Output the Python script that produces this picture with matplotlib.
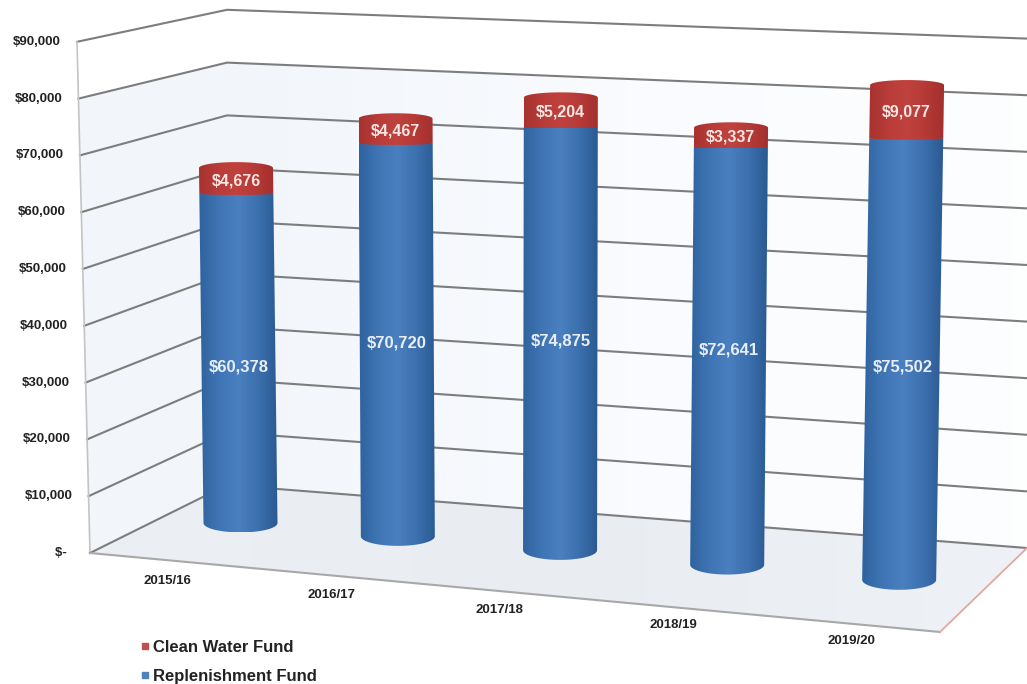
import numpy as np
import matplotlib
matplotlib.use("Agg")
import matplotlib.pyplot as plt
from matplotlib.colors import LinearSegmentedColormap
from matplotlib.lines import Line2D
from matplotlib.patches import Polygon

# datos
periodos = ["2015/16", "2016/17", "2017/18", "2018/19", "2019/20"]
replenishment = [60378, 70720, 74875, 72641, 75502]
clean_water = [4676, 4467, 5204, 3337, 9077]
marcas_eje = [0, 10000, 20000, 30000, 40000, 50000, 60000, 70000, 80000, 90000]
etiquetas_eje = ["$-  ", "$10,000", "$20,000", "$30,000", "$40,000", "$50,000",
                 "$60,000", "$70,000", "$80,000", "$90,000"]
nombres = ["Clean Water Fund", "Replenishment Fund"]

plt.rcParams["font.family"] = ["Liberation Sans", "DejaVu Sans"]
BOLD = "bold"

# colormaps del cilindro
cmap_azul = LinearSegmentedColormap.from_list("azul", ["#2f639f", "#3f75b4", "#4a80c0", "#3c70ae", "#2a5a92"])
cmap_rojo = LinearSegmentedColormap.from_list("rojo", ["#a7322f", "#b93c39", "#c0423e", "#b63a37", "#a2302d"])


def pared_izq(v):
    return 90 - 13 * v / 90000, 553 - 5.68 * v / 1000


def pared_fondo(v):
    return 227, 485 - 5.28 * v / 1000


def pared_der(v):
    return 1027, 548 - 5.66 * v / 1000


def base_x(i):
    return 240.5 + 154.9 * i + 2.44 * i * i


def base_y(i):
    return 523 + 13 * i + 0.3 * i * i


def escala(i):
    return (5.457 + 0.098 * i) / 1000


def punto(i, v):
    # del valor al pixel, el cilindro se inclina un poco por la perspectiva
    y = base_y(i) - v * escala(i)
    x = base_x(i) + (-0.0127 + 0.0072 * i) * (base_y(i) - y)
    return x, y


def semieje(y):
    # la elipse se abre mas abajo
    return 5 + 5 * max(y - 80, 0) / 500


def arco(cx, cy, ancho, alto):
    t = np.linspace(0, np.pi, 40)
    return np.column_stack([cx + ancho * np.cos(t), cy + alto * np.sin(t)])


def tramo(ax, i, v0, v1, cmap, zorder, alto_abajo, alto_arriba):
    x0, y0 = punto(i, v0)
    x1, y1 = punto(i, v1)
    medio = 37
    abajo = arco(x0, y0, medio, alto_abajo)                 # derecha a izquierda por abajo
    arriba = arco(x1, y1, medio, alto_arriba)[::-1]         # izquierda a derecha
    pts = np.vstack([abajo, arriba])
    parche = Polygon(pts, closed=True, transform=ax.transData, facecolor="none", edgecolor="none")
    ax.add_patch(parche)
    grad = np.linspace(0, 1, 128).reshape(1, -1)
    izq, der = pts[:, 0].min(), pts[:, 0].max()
    im = ax.imshow(grad, cmap=cmap, extent=[izq, der, pts[:, 1].max(), pts[:, 1].min()],
                   aspect="auto", zorder=zorder, interpolation="bilinear")
    im.set_clip_path(parche)


def fondo_gradiente(ax, pts, colores, zorder=1):
    parche = Polygon(pts, closed=True, transform=ax.transData, facecolor="none", edgecolor="none")
    ax.add_patch(parche)
    cmap = LinearSegmentedColormap.from_list("f", colores)
    pts = np.array(pts)
    im = ax.imshow(np.linspace(0, 1, 64).reshape(1, -1), cmap=cmap,
                   extent=[pts[:, 0].min(), pts[:, 0].max(), pts[:, 1].max(), pts[:, 1].min()],
                   aspect="auto", zorder=zorder)
    im.set_clip_path(parche)


fig = plt.figure(figsize=(10.27, 6.84), dpi=100)
ax = fig.add_axes([0, 0, 1, 1])

# paredes y piso
v_alto = marcas_eje[-2]
fondo_gradiente(ax, [pared_izq(0), pared_izq(v_alto), pared_fondo(v_alto), pared_fondo(0)],
                ["#f3f6fa", "#f2f6fa"])
fondo_gradiente(ax, [pared_fondo(0), pared_fondo(v_alto), pared_der(v_alto), pared_der(0)],
                ["#f2f6fb", "#f9fbfe", "#fdfefe"])
esquina = (940, 632)
fondo_gradiente(ax, [pared_izq(0), pared_fondo(0), pared_der(0), esquina],
                ["#eceff4", "#e9edf2", "#eef1f5"])

# rejilla
for v in marcas_eje:
    xs, ys = zip(pared_izq(v), pared_fondo(v), pared_der(v))
    ax.plot(xs, ys, color="#7d7d7d", lw=1.5, zorder=2, solid_joinstyle="miter")
xs, ys = zip(pared_izq(0), pared_izq(marcas_eje[-1]))
ax.plot(xs, ys, color="#c4c4c4", lw=1.2, zorder=2)
ax.plot([pared_izq(0)[0], esquina[0]], [pared_izq(0)[1], esquina[1]], color="#a8a8a8", lw=1.5, zorder=2)
ax.plot([esquina[0], pared_der(0)[0]], [esquina[1], pared_der(0)[1]], color="#e2a79f", lw=1.3, zorder=2)

# etiquetas eje y
for v, etiqueta in zip(marcas_eje, etiquetas_eje):
    x, y = pared_izq(v)
    ax.text(x - 16, y, etiqueta, ha="right", va="center", fontsize=9.5,
            fontweight=BOLD, color="#222222", zorder=5)

# cilindros
ajuste_label = [9, 3, 2, -6, 8]
for i in range(len(periodos)):
    r = replenishment[i]
    c = clean_water[i]
    y_base = punto(i, 0)[1]
    y_top = punto(i, r + c)[1]
    tramo(ax, i, 0, r, cmap_azul, 3 + i * 0.1, semieje(y_base), 0)
    # el tope curva hacia arriba, la union con el azul casi plana
    tramo(ax, i, r, r + c, cmap_rojo, 3.02 + i * 0.1, 1.5, -semieje(y_top))
    xm, ym = punto(i, r / 2)
    ax.text(xm, ym + ajuste_label[i], f"${r:,}", ha="center", va="center", fontsize=12,
            fontweight=BOLD, color="#e9eef6", zorder=6)
    xm, ym = punto(i, r + c / 2)
    ax.text(xm, ym, f"${c:,}", ha="center", va="center", fontsize=11.5,
            fontweight=BOLD, color="#f6e6e2", zorder=6)

# etiquetas eje x
for i, periodo in enumerate(periodos):
    ax.text(base_x(i) - 73 + 6.3 * i, base_y(i) + 58 + 0.8 * i, periodo, ha="center", va="center",
            fontsize=9.5, fontweight=BOLD, color="#222222", zorder=5)

ax.set_xlim(0, 1027)
ax.set_ylim(684, 0)
ax.axis("off")

# leyenda
marcas = [Line2D([], [], marker="s", ls="none", ms=4.5, color="#c0504d"),
          Line2D([], [], marker="s", ls="none", ms=4.5, color="#4f81bd")]
ax.legend(marcas, nombres, loc="upper left", bbox_to_anchor=(141, 640),
          bbox_transform=ax.transData, frameon=False, handlelength=0.5, handletextpad=0.2,
          labelspacing=0.85, borderpad=0, borderaxespad=0,
          prop={"weight": BOLD, "size": 12}, labelcolor="#222222")

fig.savefig("out.png", dpi=100)
